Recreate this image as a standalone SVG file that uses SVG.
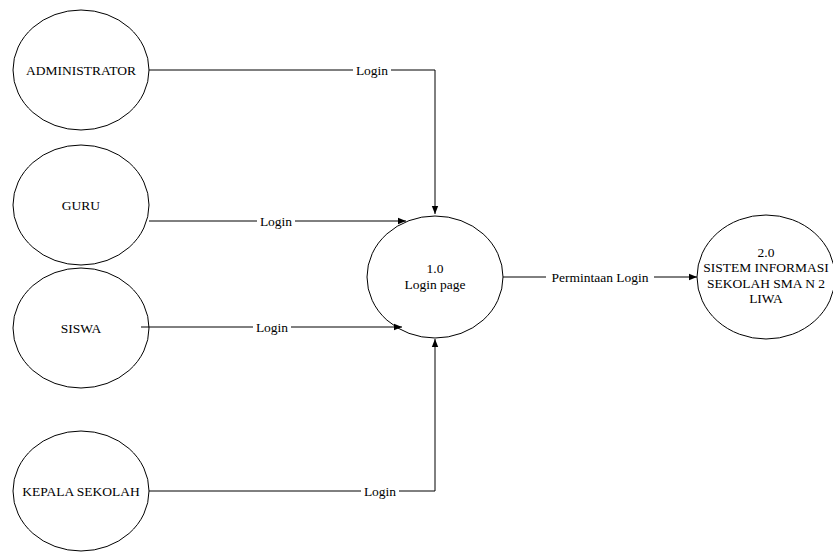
<svg xmlns="http://www.w3.org/2000/svg" width="833" height="552" viewBox="0 0 833 552">
<style>
.node{fill:none;stroke:#000;stroke-width:1}
.t{font-family:"Liberation Serif","Times New Roman",serif;font-size:13.5px;fill:#000;text-anchor:middle;dominant-baseline:central}
.c{fill:none;stroke:#000;stroke-width:1}
.bg{fill:#fff}
</style>
<defs>
<marker id="arr" viewBox="0 0 10 10" refX="10" refY="5" markerWidth="8" markerHeight="8" markerUnits="userSpaceOnUse" orient="auto">
<path d="M0,1 L10,5 L0,9 z" fill="#000"/>
</marker>
</defs>
<rect width="833" height="552" fill="#fff"/>
<g id="administrator">
<ellipse class="node" cx="81" cy="70" rx="68" ry="60"/>
<text class="t" x="81" y="70">ADMINISTRATOR</text>
</g>
<g id="guru">
<ellipse class="node" cx="81" cy="205" rx="68" ry="60"/>
<text class="t" x="81" y="205">GURU</text>
</g>
<g id="siswa">
<ellipse class="node" cx="81" cy="328" rx="68" ry="60"/>
<text class="t" x="81" y="328">SISWA</text>
</g>
<g id="kepala-sekolah">
<ellipse class="node" cx="81" cy="491" rx="68" ry="60"/>
<text class="t" x="81" y="491">KEPALA SEKOLAH</text>
</g>
<g id="login-page">
<ellipse class="node" cx="435" cy="277" rx="68" ry="61"/>
<text class="t" x="435" y="268">1.0</text>
<text class="t" x="435" y="284">Login page</text>
</g>
<g id="sistem-informasi">
<ellipse class="node" cx="766" cy="277" rx="69" ry="62"/>
<text class="t" x="766" y="252">2.0</text>
<text class="t" x="766" y="267.5">SISTEM INFORMASI</text>
<text class="t" x="766" y="283">SEKOLAH SMA N 2</text>
<text class="t" x="766" y="298.5">LIWA</text>
</g>
<g id="connectors">
<polyline class="c" points="149,70 435,70 435,214" marker-end="url(#arr)"/>
<rect class="bg" x="353" y="63" width="38" height="14"/>
<text class="t" x="372" y="70">Login</text>
<line class="c" x1="149" y1="221" x2="406" y2="221" marker-end="url(#arr)"/>
<rect class="bg" x="257" y="214" width="38" height="14"/>
<text class="t" x="276" y="221">Login</text>
<line class="c" x1="141" y1="327" x2="402" y2="327" marker-end="url(#arr)"/>
<rect class="bg" x="253" y="320" width="38" height="14"/>
<text class="t" x="272" y="327">Login</text>
<polyline class="c" points="149,491 435,491 435,339" marker-end="url(#arr)"/>
<rect class="bg" x="361" y="484" width="38" height="14"/>
<text class="t" x="380" y="491">Login</text>
<line class="c" x1="503" y1="277" x2="697" y2="277" marker-end="url(#arr)"/>
<rect class="bg" x="546" y="270" width="108" height="14"/>
<text class="t" x="600" y="277">Permintaan Login</text>
</g>
</svg>
